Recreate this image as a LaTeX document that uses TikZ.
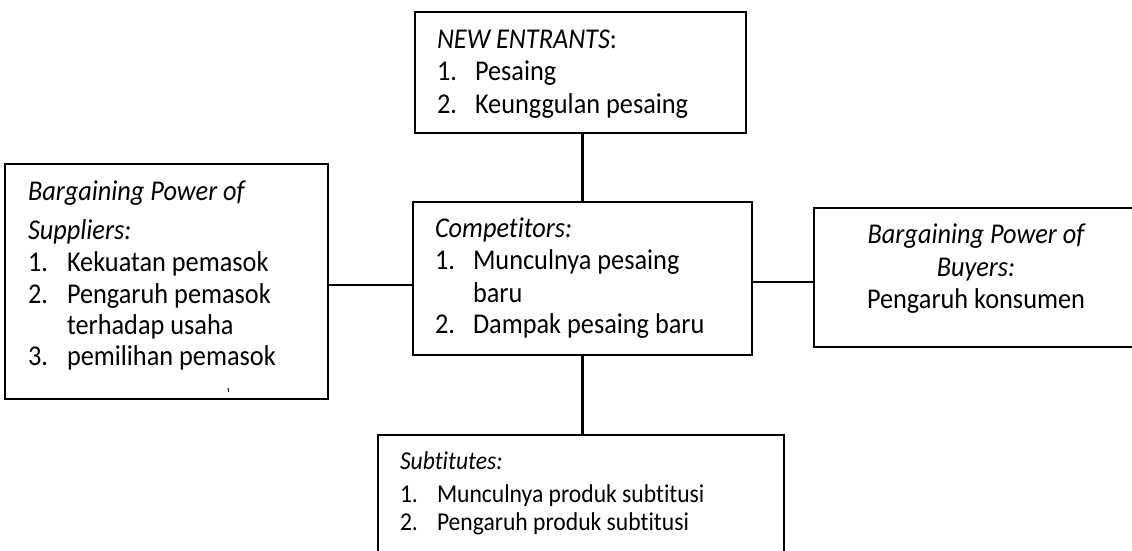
\documentclass[tikz,border=0pt]{standalone}
\usepackage{graphicx}
\usepackage{fontspec}
\setmainfont{Carlito}[Ligatures={NoCommon}]
\newcommand{\vs}[1]{\scalebox{1}[1.09]{#1}}
\begin{document}
\begin{tikzpicture}[x=1pt,y=-1pt,
  boxstyle/.style={draw=black,line width=2.8pt,rectangle,inner sep=0pt,outer sep=0pt,anchor=north west},
  linkstyle/.style={draw=black,line width=2.4pt},
  txt/.style={anchor=base west,inner sep=0pt,outer sep=0pt,font=\fontsize{26.3}{32}\selectfont},
  ctxt/.style={anchor=base,inner sep=0pt,outer sep=0pt,font=\fontsize{26.3}{32}\selectfont},
  stxt/.style={anchor=base west,inner sep=0pt,outer sep=0pt,font=\fontsize{23.6}{28}\selectfont}]
\useasboundingbox (0,0) rectangle (1132,550);
\clip (0,0) rectangle (1132,550);
% boxes
\node[boxstyle,minimum width=323pt,minimum height=235pt] (L) at (5,164) {};
\node[boxstyle,minimum width=331pt,minimum height=121pt] (T) at (415,12) {};
\node[boxstyle,minimum width=339pt,minimum height=153pt] (C) at (413,202) {};
\node[boxstyle,minimum width=330pt,minimum height=139pt] (R) at (814,208) {};
\node[boxstyle,minimum width=406pt,minimum height=130pt] (S) at (378,435) {};
% connectors
\coordinate (lc) at (0,285);
\coordinate (rc) at (0,282);
\draw[linkstyle] (L.east |- lc) -- (C.west |- lc);
\draw[linkstyle] (C.east |- rc) -- (R.west |- rc);
\draw[linkstyle] (T.south -| C.north) -- (C.north);
\draw[linkstyle] (C.south) -- (C.south |- S.north);
% left box text
\node[txt] (l1) at (28,200) {\vs{\itshape Bargaining Power of}};
\node[txt] (l2) at (28,239) {\vs{\itshape Suppliers:}};
\node[txt] (l3n) at (28,271) {\vs{1.}};
\node[txt] (l3) at (67,271) {\vs{Kekuatan pemasok}};
\node[txt] (l4n) at (28,303) {\vs{2.}};
\node[txt] (l4) at (67,303) {\vs{Pengaruh pemasok}};
\node[txt] (l5) at (67,334) {\vs{terhadap usaha}};
\node[txt] (l6n) at (28,365) {\vs{3.}};
\node[txt] (l6) at (67,365) {\vs{pemilihan pemasok}};
\draw[line width=1pt] (228,388) -- (228.6,392);
% top box text
\node[txt] (t1) at (437,48) {\vs{\itshape NEW ENTRANTS\upshape:}};
\node[txt] (t2n) at (437,80) {\vs{1.}};
\node[txt] (t2) at (475,80) {\vs{Pesaing}};
\node[txt] (t3n) at (437,113) {\vs{2.}};
\node[txt] (t3) at (475,113) {\vs{Keunggulan pesaing}};
% center box text
\node[txt] (c1) at (435,237) {\vs{\itshape Competitors:}};
\node[txt] (c2n) at (435,269) {\vs{1.}};
\node[txt] (c2) at (473,269) {\vs{Munculnya pesaing}};
\node[txt] (c3) at (473,302) {\vs{baru}};
\node[txt] (c4n) at (435,333) {\vs{2.}};
\node[txt] (c4) at (473,333) {\vs{Dampak pesaing baru}};
% right box text
\node[ctxt] (r1) at (976,243) {\vs{\itshape Bargaining Power of}};
\node[ctxt] (r2) at (976,276) {\vs{\itshape Buyers:}};
\node[ctxt] (r3) at (976,308) {\vs{Pengaruh konsumen}};
% bottom box text
\node[stxt] (s1) at (400,469) {\vs{\itshape Subtitutes:}};
\node[stxt] (s2n) at (400,502) {\vs{1.}};
\node[stxt] (s2) at (437,502) {\vs{Munculnya produk subtitusi}};
\node[stxt] (s3n) at (400,530) {\vs{2.}};
\node[stxt] (s3) at (437,530) {\vs{Pengaruh produk subtitusi}};
\end{tikzpicture}
\end{document}
